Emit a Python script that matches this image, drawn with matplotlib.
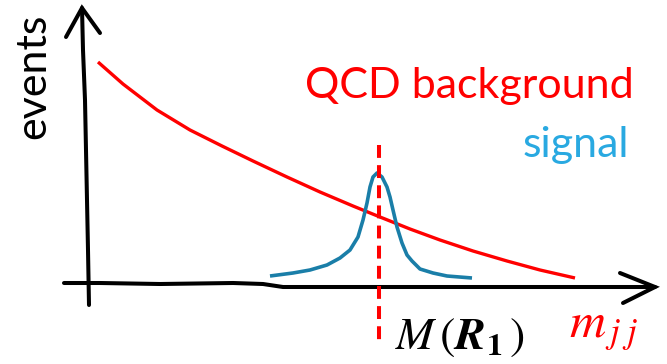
import matplotlib
matplotlib.use("Agg")
import matplotlib.pyplot as plt

plt.rcParams['mathtext.fontset'] = 'stix'

# Schematic data (x: m_jj units from the axis origin, y: events above the baseline)
bkg_m = [10, 35, 69, 102, 134, 165, 199, 232, 265, 292, 322, 352, 385, 419, 452, 487]
bkg_events = [224, 202, 176, 156, 140, 125, 109, 94, 80, 69, 57, 46, 35, 25, 16, 8]

sig_m = [182, 205, 222, 239, 252, 262, 270, 275, 279, 282, 285, 289, 294, 299, 302, 305,
         309, 314, 319, 324, 332, 345, 359, 384]
sig_events = [10, 13, 16, 21, 28, 36, 49, 66, 83, 99, 109, 113, 109, 99, 89, 76,
              59, 43, 31, 25, 17, 13, 10, 8]

resonance_m = 291
resonance_span = [141, -57]

# hand-drawn axes
yaxis_m = [1, 0, -1, -2, -3, -5, -6]
yaxis_events = [-19, 36, 86, 136, 186, 236, 278]
yarrow_m = [-22, -6, 12]
yarrow_events = [249, 278, 253]
xaxis_m = [-24, 12, 72, 145, 175, 195, 245, 362, 532, 567]
xaxis_events = [3, 3, 2, 3, 2, -1, -1, -1, -1, -1]
xarrow_m = [532, 567, 535]
xarrow_events = [13, -1, -17]

W, H = 667, 364
fig = plt.figure(figsize=(W / 100, H / 100), dpi=100)
ax = fig.add_axes([0, 0, 1, 1])
ax.set_xlim(-88, W - 88)
ax.set_ylim(286 - H, 286)
ax.axis('off')

black_lw = 2.9
ax.plot(yaxis_m, yaxis_events, color='black', lw=black_lw, solid_capstyle='round')
ax.plot(yarrow_m, yarrow_events, color='black', lw=black_lw, solid_capstyle='round',
        solid_joinstyle='miter')
ax.plot(xaxis_m, xaxis_events, color='black', lw=black_lw, solid_capstyle='round')
ax.plot(xarrow_m, xarrow_events, color='black', lw=black_lw, solid_capstyle='round',
        solid_joinstyle='miter')

ax.plot(bkg_m, bkg_events, color='#ff0000', lw=2.4, solid_capstyle='butt',
        solid_joinstyle='round')
ax.plot(sig_m, sig_events, color='#1a7ea8', lw=2.6, solid_capstyle='butt',
        solid_joinstyle='round')
ax.plot([resonance_m, resonance_m], resonance_span, color='#ff0000', lw=2.9,
        linestyle=(0, (3.2, 1.8)))

font = ['Lato', 'DejaVu Sans']
fs = 31
ax.text(305 - 88, 286 - 98, 'QCD background', color='#ff0000', fontsize=fs,
        family=font, ha='left', va='baseline')
ax.text(629 - 88, 286 - 157, 'signal', color='#29a9e1', fontsize=fs,
        family=font, ha='right', va='baseline')
ax.text(33 - 88, 286 - 76, 'events', color='black', fontsize=fs,
        family=font, ha='center', va='center', rotation=90)

ax.text(395 - 88, 286 - 349, r'$M\,(\boldsymbol{R}_{\mathbf{1}}\,)$', color='black',
        fontsize=33, ha='left', va='baseline')
ax.text(569 - 88, 286 - 337, r'$m_{\,j\;j}$', color='#ff0000',
        fontsize=36, ha='left', va='baseline')

fig.savefig('out.png', dpi=100)
